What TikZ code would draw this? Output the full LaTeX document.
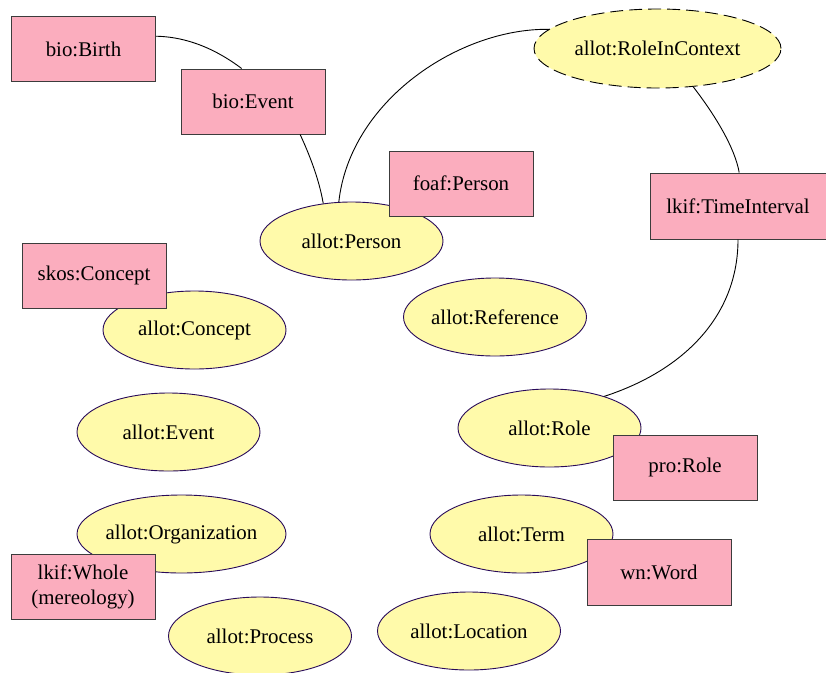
\documentclass[tikz,border=0pt]{standalone}
\usepackage{fontspec}
\setmainfont{Liberation Serif}
\usetikzlibrary{shapes}

\definecolor{ellfill}{RGB}{255,250,170}
\definecolor{elldraw}{RGB}{40,10,90}
\definecolor{boxfill}{RGB}{251,173,190}
\definecolor{boxdraw}{RGB}{60,60,60}

\begin{document}
\begin{tikzpicture}[x=1pt,y=-1pt,
    font=\fontsize{20.9}{25}\selectfont]
\useasboundingbox (0,0) rectangle (826,672);
%\tikzstyle{cls}=[ellipse,draw,fill]
\begin{scope}[every node/.style={ellipse,draw=elldraw,fill=ellfill,line width=0.9pt,
              inner sep=0pt,minimum width=183,minimum height=78}]
    \node (ric) at (657.5,48.5) [draw=black,dash pattern=on 13pt off 6pt,minimum width=247,minimum height=79] {allot:RoleInContext};
    \node (person) at (351.5,241) {allot:Person};
    \node (concept) at (194.5,330) {allot:Concept};
    \node (reference) at (495,317) {allot:Reference};
    \node (event) at (168.5,432) {allot:Event};
    \node (role) at (549.5,428) {allot:Role};
    \node (org) at (181.5,534) [inner xsep=-2pt,minimum width=209] {allot:Organization};
    \node (term) at (521.5,534) {allot:Term};
    \node (location) at (469,631) {allot:Location};
    \node (process) at (260,636) {allot:Process};
\end{scope}

\begin{scope}[every node/.style={rectangle,draw=boxdraw,fill=boxfill,line width=1pt,
              inner sep=0pt,minimum width=144,minimum height=65,align=center}]
    \node (birth) at (83.5,49) {bio:Birth};
    \node (bioevent) at (253,101.5) {bio:Event};
    \node (foaf) at (461,183.5) {foaf:Person};
    \node (ti) at (738,206) [minimum width=176,minimum height=66] {lkif:TimeInterval};
    \node (skos) at (94,275.5) {skos:Concept};
    \node (whole) at (83,586.5) {lkif:Whole\\(mereology)};
    \node (prorole) at (685,467.5) {pro:Role};
    \node (word) at (659,572) [minimum height=66] {wn:Word};
\end{scope}

\begin{scope}[line width=0.9pt]
    \draw (birth.10) .. controls (195,37) and (225,56) .. (bioevent.109);
    \draw (bioevent.-35) .. controls (312,160) and (320,184) .. (person.127);
    \draw (person.108) .. controls (350,100) and (460,28) .. (ric.170);
    \draw (ric.-47) .. controls (715,115) and (735,148) .. (ti.88);
    \draw (ti.south) .. controls (738,315) and (685,370) .. (role.30);
\end{scope}
\end{tikzpicture}
\end{document}
